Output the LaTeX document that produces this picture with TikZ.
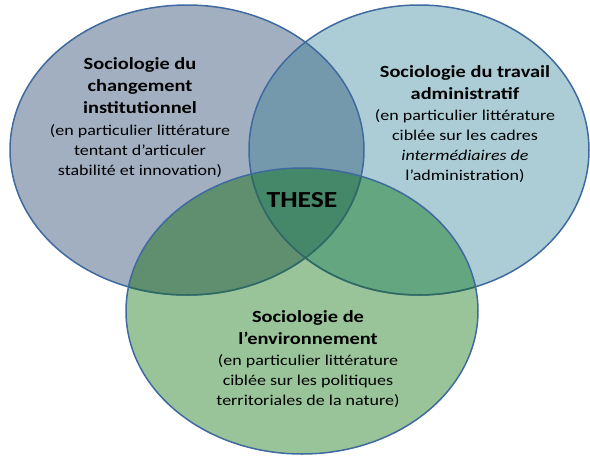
\documentclass[tikz,border=0pt]{standalone}
\usepackage{fontspec}
\setmainfont{Carlito}[FakeStretch=1.2]
\usetikzlibrary{positioning}

\definecolor{fondGauche}{HTML}{A2AFC1}
\definecolor{fondDroite}{HTML}{ACCDD6}
\definecolor{fondBas}{HTML}{99C499}
\definecolor{fondGD}{HTML}{7499AD}
\definecolor{fondGB}{HTML}{5F8F6E}
\definecolor{fondDB}{HTML}{63A67F}
\definecolor{fondCentre}{HTML}{458769}
\definecolor{traitBleu}{HTML}{3F6A9F}
\definecolor{traitVert}{HTML}{2E6B5C}

\newcommand\ellGauche{(187,150) ellipse [x radius=177, y radius=145]}
\newcommand\ellDroite{(419,150) ellipse [x radius=170, y radius=145]}
\newcommand\ellBas{(302,311) ellipse [x radius=176, y radius=143]}

\begin{document}
\begin{tikzpicture} [x=1pt,
    y=-1pt,
    contour/.style={draw=traitBleu, line width=1.5pt},
    contour vert/.style={draw=traitVert, line width=1.5pt},
    titre node/.style={align=center, inner sep=0pt,
        font=\fontsize{17}{22}\selectfont\bfseries},
    texte node/.style={align=center, inner sep=0pt,
        font=\fontsize{15}{20}\selectfont}
  ]

  \useasboundingbox (0,0) rectangle (590,456);

  %%%%%%%%%%%%%%%%%%%%%%%%%%%%%%

  \fill [fondGauche] \ellGauche;
  \fill [fondDroite] \ellDroite;
  \fill [fondBas] \ellBas;
  \begin{scope}
    \clip \ellGauche;
    \fill [fondGD] \ellDroite;
    \fill [fondGB] \ellBas;
  \end{scope}
  \begin{scope}
    \clip \ellDroite;
    \fill [fondDB] \ellBas;
  \end{scope}
  \begin{scope}
    \clip \ellGauche;
    \clip \ellDroite;
    \fill [fondCentre] \ellBas;
  \end{scope}

  %%%%%%%%%%%%%%%%%%%%%%%%%%%%%%

  \draw [contour] \ellGauche;
  \draw [contour] \ellDroite;
  \begin{scope}
    \clip \ellBas;
    \draw [contour vert] \ellGauche;
    \draw [contour vert] \ellDroite;
  \end{scope}
  \draw [contour] \ellBas;

  %%%%%%%%%%%%%%%%%%%%%%%%%%%%%%

  \node [titre node] (chgtitre) at (140,86)
  {Sociologie du\\changement\\institutionnel};
  \node [texte node] (chgtexte) at (140,151)
  {(en particulier littérature\\tentant d’articuler\\stabilité et innovation)};

  \node [titre node] (travtitre) at (465,83)
  {Sociologie du travail\\administratif};
  \node [texte node] (travtexte) at (465,146)
  {(en particulier littérature\\ciblée sur les cadres\\{\itshape intermédiaires de}\\l’administration)};

  \node [titre node] (envtitre) at (308,328)
  {Sociologie de\\l’environnement};
  \node [texte node] (envtexte) at (308,381)
  {(en particulier littérature\\ciblée sur les politiques\\territoriales de la nature)};

  \node [titre node,
    font=\fontsize{23}{26}\selectfont\bfseries
  ] (these) at (302,200) {THESE};

\end{tikzpicture}
\end{document}
